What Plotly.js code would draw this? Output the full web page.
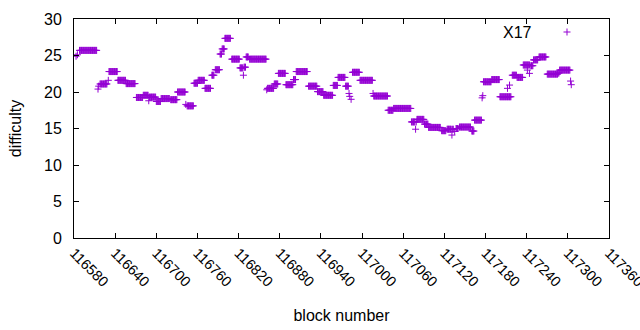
<!DOCTYPE html>
<html>
<head>
<meta charset="utf-8">
<script src="https://cdn.plot.ly/plotly-3.0.1.min.js"></script>
<style>html,body{margin:0;padding:0;background:#fff;}#chart{width:640px;height:330px;}</style>
</head>
<body>
<div id="chart"></div>
<script>
// Difficulty readings, run-length encoded: every block from first to last has the given difficulty
const runFirstBlock = [116583,116585,116588,116615,116616,116618,116630,116631,116644,116656,116671,116681,116689,116690,116700,116707,116721,116731,116743,116745,116755,116761,116771,116781,116786,116793,116796,116800,116810,116822,116827,116828,116831,116836,116861,116862,116872,116878,116889,116900,116904,116922,116935,116944,116958,116965,116976,116981,116982,116984,116986,116997,117016,117017,117038,117046,117072,117078,117079,117080,117091,117097,117116,117124,117131,117132,117135,117137,117142,117160,117164,117175,117176,117177,117189,117201,117212,117215,117219,117226,117235,117241,117244,117246,117250,117258,117270,117286,117288,117304,117305];
const runLastBlock  = [116583,116585,116613,116615,116616,116628,116630,116643,116655,116669,116680,116688,116689,116699,116706,116719,116730,116742,116743,116754,116760,116770,116779,116784,116792,116795,116799,116808,116821,116826,116827,116830,116834,116860,116861,116871,116877,116888,116899,116903,116920,116934,116943,116957,116964,116975,116980,116981,116982,116984,116996,117015,117016,117037,117045,117071,117077,117078,117079,117090,117096,117114,117122,117130,117131,117133,117135,117140,117158,117163,117174,117175,117176,117188,117200,117217,117212,117215,117225,117234,117244,117241,117244,117249,117256,117268,117285,117287,117303,117304,117305];
const runDifficulty = [24.9,25.1,25.7,20.4,20.8,21.1,21.6,22.8,21.6,21.15,19.25,19.55,18.8,19.3,18.7,19.1,18.95,20.0,18.3,18.1,21.2,21.6,20.5,22.3,23.05,25.2,25.9,27.35,24.5,23.3,22.3,23.4,24.8,24.5,20.3,20.5,21.1,22.55,21.0,21.7,22.8,20.8,20.05,19.55,20.9,22.0,20.8,19.8,19.4,19.0,22.7,21.6,19.8,19.45,17.5,17.75,15.9,14.9,15.9,16.25,15.6,15.15,14.7,14.9,14.1,14.9,14.6,15.0,15.2,14.65,16.15,19.2,19.5,21.4,21.7,19.35,20.5,20.95,22.3,22.0,23.7,23.0,22.55,23.6,24.4,24.8,22.45,22.6,23.0,21.5,21.0];

const xTickValues = [116580,116640,116700,116760,116820,116880,116940,117000,117060,117120,117180,117240,117300,117360];
const yTickValues = [0,5,10,15,20,25,30];
const seriesName = 'X17';

const blocks = [], difficulty = [];
for (let i = 0; i < runFirstBlock.length; i++) {
  for (let b = runFirstBlock[i]; b <= runLastBlock[i]; b++) {
    blocks.push(b); difficulty.push(runDifficulty[i]);
  }
}

const color = '#9400D3';
const family = 'Liberation Sans, Arial, sans-serif';
const font = {family: family, size: 16, color: '#000'};
const xTickFont = {family: family, size: 14.5, color: '#000'};

const trace = {
  x: blocks, y: difficulty, type: 'scatter', mode: 'markers', name: seriesName,
  showlegend: false, cliponaxis: true,
  marker: {symbol: 'cross-thin-open', size: 5, color: color, line: {color: color, width: 1}}
};

// legend: text then sample, gnuplot style
const L = 74, R = 609, T = 19, B = 238;
const px = x => (x - L) / (R - L), py = y => (B - y) / (B - T);
const sx = 567, sy = 32;

const layout = {
  width: 640, height: 330,
  margin: {l: L, r: 640 - R, t: T, b: 330 - B},
  paper_bgcolor: '#fff', plot_bgcolor: '#fff',
  font: font,
  xaxis: {
    range: [116580, 117360], tickvals: xTickValues, ticktext: xTickValues.map(String),
    tickangle: 45, ticks: 'inside', ticklen: 5, tickcolor: '#000',
    showline: true, linecolor: '#000', linewidth: 1, mirror: 'ticks',
    showgrid: false, zeroline: false, tickfont: xTickFont, ticklabeloverflow: 'allow',
    title: {text: 'block number', font: font, standoff: 20}
  },
  yaxis: {
    range: [0, 30], tickvals: yTickValues,
    ticks: 'inside', ticklen: 5, tickcolor: '#000',
    showline: true, linecolor: '#000', linewidth: 1, mirror: 'ticks',
    showgrid: false, zeroline: false, tickfont: font, ticklabelstandoff: 8,
    title: {text: 'difficulty', font: font, standoff: 18}
  },
  annotations: [{
    xref: 'paper', yref: 'paper', x: px(534), y: py(sy), text: seriesName,
    showarrow: false, xanchor: 'right', yanchor: 'middle', font: font
  }],
  shapes: [
    {type: 'line', xref: 'paper', yref: 'paper', x0: px(sx - 3.5), x1: px(sx + 3.5), y0: py(sy), y1: py(sy), line: {color: color, width: 1}},
    {type: 'line', xref: 'paper', yref: 'paper', x0: px(sx), x1: px(sx), y0: py(sy - 3.5), y1: py(sy + 3.5), line: {color: color, width: 1}}
  ]
};

Plotly.newPlot('chart', [trace], layout, {staticPlot: true, displayModeBar: false});
</script>
</body>
</html>
